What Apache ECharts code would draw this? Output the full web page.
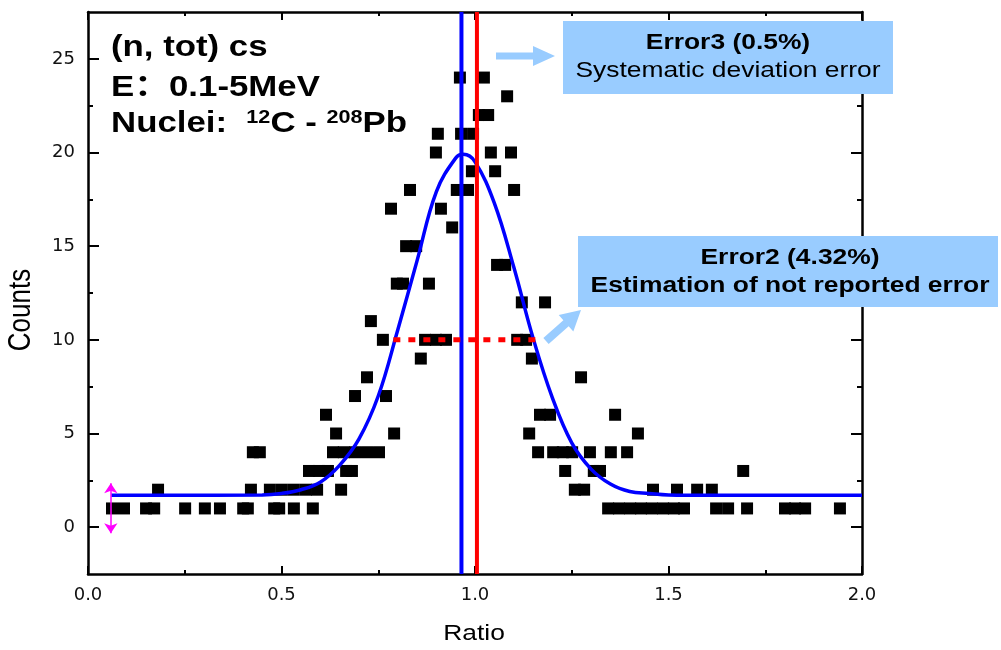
<!DOCTYPE html>
<html>
<head>
<meta charset="utf-8">
<title>Ratio distribution</title>
<script src="https://cdn.jsdelivr.net/npm/echarts@6/dist/echarts.min.js"></script>
<style>
  html, body { margin: 0; padding: 0; background: #fff; }
  #chart { width: 1001px; height: 650px; }
</style>
</head>
<body>
<div id="chart"></div>
<script>
// one entry per square marker, grouped by count level
var ratio = [
  0.062, 0.093, 0.150, 0.171, 0.251, 0.302, 0.341, 0.401, 0.413, 0.481, 0.494, 0.532, 0.581,
  1.344, 1.372, 1.401, 1.429, 1.457, 1.486, 1.514, 1.540, 1.623, 1.654, 1.703, 1.801, 1.827, 1.853, 1.943,
  0.181, 0.421, 0.470, 0.501, 0.532, 0.563, 0.592, 0.654, 1.258, 1.282, 1.460, 1.522, 1.574, 1.612,
  0.571, 0.597, 0.620, 0.667, 0.682, 1.233, 1.307, 1.323, 1.693,
  0.426, 0.444, 0.633, 0.661, 0.690, 0.721, 0.752, 1.163, 1.202, 1.227, 1.251, 1.297, 1.351, 1.393,
  0.641, 0.791, 1.140, 1.421,
  0.615, 1.168, 1.194, 1.362,
  0.690, 0.770,
  0.721, 1.274,
  0.860, 1.147,
  0.762, 0.871, 0.899, 0.925, 1.109, 1.132,
  0.731,
  1.121, 1.181,
  0.798, 0.814, 0.881,
  1.057, 1.078,
  0.822, 0.848,
  0.941,
  0.783, 0.912,
  0.832, 0.953, 0.982, 1.101,
  0.992, 1.052,
  0.899, 1.041, 1.093,
  0.904, 0.964, 0.995,
  1.010, 1.034,
  1.083,
  0.961, 1.023
];
var counts = [
  1, 1, 1, 1, 1, 1, 1, 1, 1, 1, 1, 1, 1,
  1, 1, 1, 1, 1, 1, 1, 1, 1, 1, 1, 1, 1, 1, 1,
  2, 2, 2, 2, 2, 2, 2, 2, 2, 2, 2, 2, 2, 2,
  3, 3, 3, 3, 3, 3, 3, 3, 3,
  4, 4, 4, 4, 4, 4, 4, 4, 4, 4, 4, 4, 4, 4,
  5, 5, 5, 5,
  6, 6, 6, 6,
  7, 7,
  8, 8,
  9, 9,
  10, 10, 10, 10, 10, 10,
  11,
  12, 12,
  13, 13, 13,
  14, 14,
  15, 15,
  16,
  17, 17,
  18, 18, 18, 18,
  19, 19,
  20, 20, 20,
  21, 21, 21,
  22, 22,
  23,
  24, 24
];

// gaussian fit curve
var fitX = [0.06, 0.45, 0.50, 0.55, 0.60, 0.65, 0.70, 0.75, 0.80, 0.85, 0.90, 0.95, 0.97,
            1.00, 1.05, 1.10, 1.15, 1.20, 1.25, 1.30, 1.35, 1.40, 1.45, 1.50, 1.60, 2.00];
var fitY = [1.7, 1.72, 1.8, 2.0, 2.4, 3.3, 4.7, 7.0, 10.5, 14.2, 17.9, 19.7, 19.9,
            19.5, 17.3, 13.9, 10.1, 6.9, 4.5, 3.1, 2.3, 1.9, 1.8, 1.72, 1.7, 1.7];

var meanRatio = 0.965;         // blue vertical
var refRatio = 1.005;          // red vertical
var widthLevel = 10;           // red dotted line
var widthRange = [0.789, 1.164];
var spreadX = 0.059;           // magenta double arrow
var spreadRange = [-0.32, 2.35];

var xMin = 0, xMax = 2;
var yMin = -2.5, yMax = 27.5;
var yTicks = [0, 5, 10, 15, 20, 25];
var yMinorTicks = [2.5, 7.5, 12.5, 17.5, 22.5];

var points = ratio.map(function (r, i) { return [r, counts[i]]; });
var fit = fitX.map(function (x, i) { return [x, fitY[i]]; });

var labelFont = { fontFamily: 'DejaVu Sans', fontSize: 18, color: '#111' };
var axisLine = { show: true, onZero: false, lineStyle: { color: '#000', width: 2.5 } };

function xAxisAt(pos, labels) {
  return {
    type: 'value', position: pos, min: xMin, max: xMax, interval: 0.5,
    axisLine: axisLine,
    axisTick: { show: true, inside: true, length: 8, lineStyle: { color: '#000', width: 2 } },
    minorTick: { show: true, splitNumber: 2, length: 4, lineStyle: { color: '#000', width: 2 } },
    axisLabel: Object.assign({ show: labels, margin: 12, formatter: function (v) { return v.toFixed(1); } }, labelFont),
    splitLine: { show: false }, minorSplitLine: { show: false }
  };
}
function yAxisAt(pos, minor, labels) {
  return {
    type: 'value', position: pos, min: yMin, max: yMax,
    axisLine: minor ? { show: false, onZero: false } : axisLine,
    axisTick: { show: true, inside: true, length: minor ? 5 : 11, customValues: minor ? yMinorTicks : yTicks,
                lineStyle: { color: '#000', width: 2 } },
    axisLabel: Object.assign({ show: labels, margin: 13, customValues: yTicks }, labelFont),
    splitLine: { show: false }
  };
}

function arrowShape(x1, y1, x2, y2, shaft, head, headLen) {
  var dx = x2 - x1, dy = y2 - y1, len = Math.sqrt(dx * dx + dy * dy);
  var ux = dx / len, uy = dy / len, nx = -uy, ny = ux;
  var bx = x2 - ux * headLen, by = y2 - uy * headLen;
  return [
    [x1 + nx * shaft / 2, y1 + ny * shaft / 2],
    [bx + nx * shaft / 2, by + ny * shaft / 2],
    [bx + nx * head / 2, by + ny * head / 2],
    [x2, y2],
    [bx - nx * head / 2, by - ny * head / 2],
    [bx - nx * shaft / 2, by - ny * shaft / 2],
    [x1 - nx * shaft / 2, y1 - ny * shaft / 2]
  ];
}

var boxBlue = '#99ccff';
var txtFont = '"Liberation Sans", Arial, "Noto Sans CJK SC", sans-serif';

function label(x, y, text, size, bold, align, extra) {
  align = align || 'center';
  return Object.assign({
    type: 'text', x: x, y: y, scaleX: 1.2, z: 110,
    style: { text: text, fontSize: size, fontWeight: bold ? 'bold' : 'normal', fontFamily: txtFont,
             fill: '#000', align: align, verticalAlign: 'middle',
             textAlign: align, textVerticalAlign: 'middle' }
  }, extra || {});
}

var chart = echarts.init(document.getElementById('chart'));
chart.setOption({
  animation: false,
  backgroundColor: '#fff',
  grid: { left: 88, right: 139, top: 12, bottom: 76 },
  xAxis: [xAxisAt('bottom', true), xAxisAt('top', false)],
  yAxis: [yAxisAt('left', false, true), yAxisAt('left', true, false),
          yAxisAt('right', false, false), yAxisAt('right', true, false)],
  series: [
    {
      type: 'scatter', data: points, symbol: 'rect', symbolSize: 12,
      itemStyle: { color: '#000', opacity: 1 }, z: 2
    },
    {
      type: 'line', data: fit, smooth: 0.4, showSymbol: false, z: 3,
      lineStyle: { color: '#0000ff', width: 3.5 },
      markLine: {
        silent: true, symbol: ['arrow', 'arrow'], symbolSize: 10, label: { show: false },
        lineStyle: { color: '#ff00ff', width: 1.5, type: 'solid' },
        data: [[{ coord: [spreadX, spreadRange[1]] }, { coord: [spreadX, spreadRange[0]] }]]
      }
    },
    {
      type: 'line', data: [[meanRatio, yMin], [meanRatio, yMax]], showSymbol: false, z: 4,
      lineStyle: { color: '#0000ff', width: 4 }
    },
    {
      type: 'line', data: [[refRatio, yMin], [refRatio, yMax]], showSymbol: false, z: 4,
      lineStyle: { color: '#ff0000', width: 4 }
    },
    {
      type: 'line', data: [[widthRange[0], widthLevel], [widthRange[1], widthLevel]], showSymbol: false, z: 5,
      lineStyle: { color: '#ff0000', width: 5, type: [7, 8], cap: 'butt' }
    }
  ],
  graphic: [
    { type: 'rect', z: 100, shape: { x: 563, y: 21, width: 330, height: 73 }, style: { fill: boxBlue } },
    { type: 'rect', z: 100, shape: { x: 578, y: 236, width: 420, height: 71 }, style: { fill: boxBlue } },
    { type: 'polygon', z: 100, shape: { points: arrowShape(496, 56, 555, 56, 7, 20, 22) }, style: { fill: boxBlue } },
    { type: 'polygon', z: 100, shape: { points: arrowShape(546, 341, 581, 310, 8, 22, 20) }, style: { fill: boxBlue } },
    label(728, 43, 'Error3 (0.5%)', 22, true),
    label(728, 71, 'Systematic deviation error', 22, false),
    label(790, 258, 'Error2 (4.32%)', 22, true),
    label(790, 286, 'Estimation of not reported error', 22, true),
    label(111, 48, '(n, tot) cs', 29, true, 'left'),
    label(111, 88, 'E\uff1a0.1-5MeV', 29, true, 'left'),
    {
      type: 'text', x: 111, y: 124, scaleX: 1.2, z: 110,
      style: {
        text: '{b|Nuclei:  }{s|12}{b|C - }{s|208}{b|Pb}',
        fontSize: 29, fontWeight: 'bold', fontFamily: txtFont, fill: '#000',
        align: 'left', verticalAlign: 'middle', textAlign: 'left', textVerticalAlign: 'middle',
        rich: {
          b: { fontSize: 29, fontWeight: 'bold', fontFamily: txtFont, fill: '#000' },
          s: { fontSize: 18, fontWeight: 'bold', fontFamily: txtFont, fill: '#000', verticalAlign: 'top' }
        }
      }
    },
    label(474, 634, 'Ratio', 22, false),
    label(21, 310, 'Counts', 26, false, 'center', { rotation: Math.PI / 2, scaleX: 1, scaleY: 1.2 })
  ]
});
</script>
</body>
</html>
